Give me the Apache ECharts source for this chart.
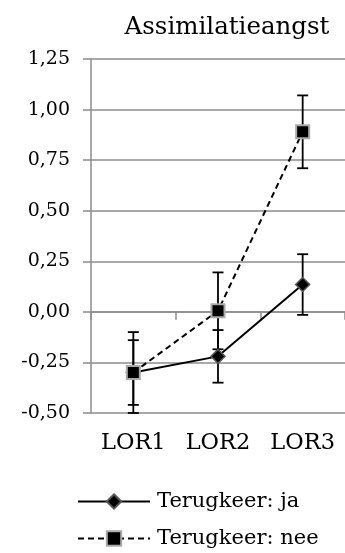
<!DOCTYPE html>
<html>
<head>
<meta charset="utf-8">
<script src="https://cdn.jsdelivr.net/npm/echarts@6/dist/echarts.min.js"></script>
<style>
  html, body { margin: 0; padding: 0; background: #fff; }
  #chart { width: 345px; height: 553px; }
</style>
</head>
<body>
<div id="chart"></div>
<script>
// Assimilatieangst by LOR, split on intention to return. Bars are +/- error.
const categories = ["LOR1", "LOR2", "LOR3"];
const jaMean = [-0.30, -0.22, 0.135];
const jaErr = [0.16, 0.13, 0.15];
const neeMean = [-0.30, 0.005, 0.89];
const neeErr = [0.20, 0.19, 0.18];
const yTicks = { min: -0.5, max: 1.25, step: 0.25 };

const SERIF = "DejaVu Serif";
const GRIDC = "#8c8c8c";

const errData = (mean, err) =>
  mean.map((m, i) => [i, m - err[i], m + err[i]]);

// vertical whisker with caps, positioned through the axis scale
const whisker = (params, api) => {
  const lo = api.coord([api.value(0), api.value(1)]);
  const hi = api.coord([api.value(0), api.value(2)]);
  const cap = 5.5;
  const style = { stroke: "#000", lineWidth: 1.8 };
  return {
    type: "group",
    children: [
      { type: "line", shape: { x1: lo[0], y1: lo[1], x2: hi[0], y2: hi[1] }, style },
      { type: "line", shape: { x1: lo[0] - cap, y1: lo[1], x2: lo[0] + cap, y2: lo[1] }, style },
      { type: "line", shape: { x1: hi[0] - cap, y1: hi[1], x2: hi[0] + cap, y2: hi[1] }, style },
    ],
  };
};

// one legend per row so the vertical list never wraps into a second column
const legendRow = (name, top) => ({
  data: [name],
  left: 72,
  top,
  itemWidth: 72,
  itemHeight: 18,
  textStyle: { fontFamily: SERIF, fontSize: 21, color: "#000", padding: [0, 0, 0, 2] },
});

const chart = echarts.init(document.getElementById("chart"));
chart.setOption({
  animation: false,
  title: {
    text: "Assimilatieangst",
    left: 222,
    textAlign: "center",
    top: 10,
    textStyle: { fontFamily: SERIF, fontWeight: "normal", fontSize: 24.5, color: "#000" },
  },
  grid: { left: 91, right: -7, top: 59, bottom: 140 },
  xAxis: {
    type: "category",
    data: categories,
    boundaryGap: true,
    axisLine: { lineStyle: { color: GRIDC, width: 1.5 } },
    axisTick: { show: true, length: 8, lineStyle: { color: GRIDC, width: 1.5 } },
    axisLabel: { fontFamily: SERIF, fontSize: 22.5, color: "#000", margin: 19 },
  },
  yAxis: {
    type: "value",
    min: yTicks.min,
    max: yTicks.max,
    interval: yTicks.step,
    axisLine: { show: true, lineStyle: { color: GRIDC, width: 1.5 } },
    axisTick: { show: true, length: 8, lineStyle: { color: GRIDC, width: 1.5 } },
    splitLine: { lineStyle: { color: GRIDC, width: 1.5 } },
    axisLabel: {
      fontFamily: SERIF,
      fontSize: 19,
      color: "#000",
      margin: 21,
      formatter: (v) => v.toFixed(2).replace(".", ","),
    },
  },
  legend: [legendRow("Terugkeer: ja", 486), legendRow("Terugkeer: nee", 523)],
  series: [
    {
      type: "custom",
      name: "err-ja",
      renderItem: whisker,
      data: errData(jaMean, jaErr),
      z: 1,
    },
    {
      type: "custom",
      name: "err-nee",
      renderItem: whisker,
      data: errData(neeMean, neeErr),
      z: 1,
    },
    {
      name: "Terugkeer: ja",
      type: "line",
      data: jaMean,
      z: 3,
      symbol: "diamond",
      symbolSize: 14,
      lineStyle: { color: "#000", width: 2 },
      itemStyle: { color: "#000", borderColor: "#555", borderWidth: 1.5 },
    },
    {
      name: "Terugkeer: nee",
      type: "line",
      data: neeMean,
      z: 3,
      symbol: "rect",
      symbolSize: 13,
      lineStyle: { color: "#000", width: 2, type: [6, 4] },
      itemStyle: { color: "#000", borderColor: "#aaa", borderWidth: 2 },
    },
  ],
});
</script>
</body>
</html>
